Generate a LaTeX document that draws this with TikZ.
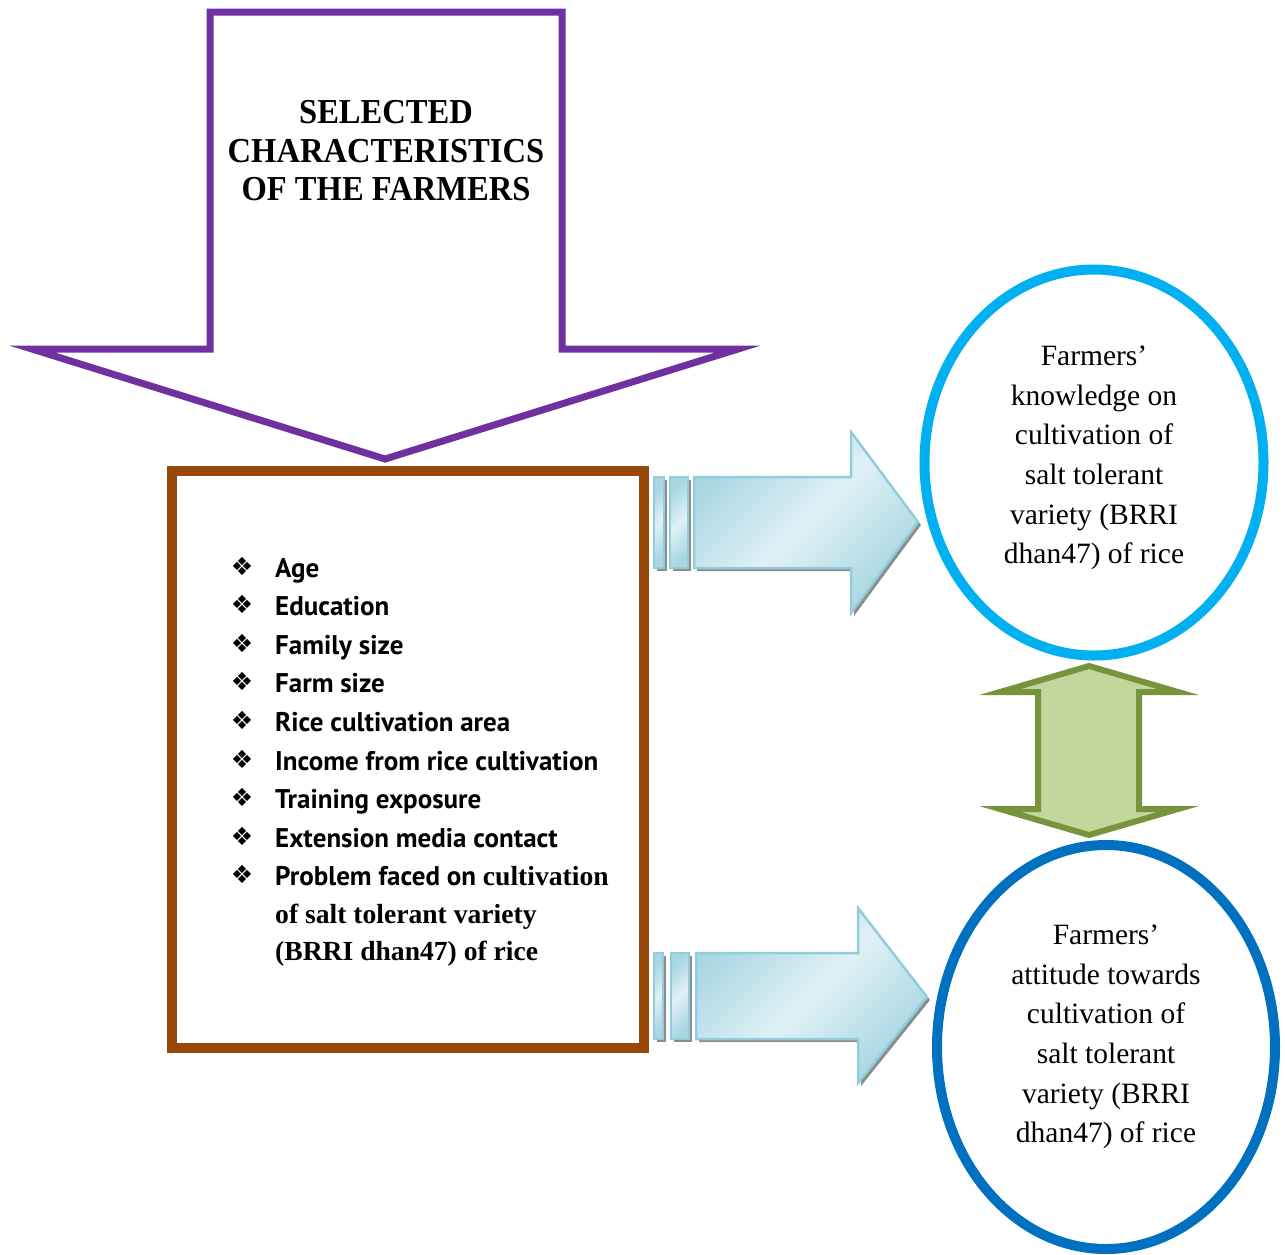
\documentclass[tikz,border=0pt]{standalone}
\usepackage{fontspec}
\setmainfont{Liberation Serif}
\newfontfamily\titlefont[FakeStretch=0.93]{Liberation Serif}
\newfontfamily\listfont{PT Sans}
\newfontfamily\symfont{DejaVu Sans}
\usetikzlibrary{shapes.geometric}
\definecolor{purp}{RGB}{112,48,160}
\definecolor{boxbrown}{RGB}{151,72,6}
\definecolor{cyanO}{RGB}{0,176,240}
\definecolor{blueO}{RGB}{0,112,192}
\definecolor{grnF}{RGB}{195,214,155}
\definecolor{grnD}{RGB}{119,147,60}
\definecolor{arrL}{RGB}{224,241,246}
\definecolor{arrD}{RGB}{168,214,226}
\definecolor{arrB}{RGB}{146,205,220}
\tikzset{
  bluefill/.style={draw=arrB, line width=2.5, line join=miter, top color=arrD, bottom color=arrD, middle color=arrL, shading angle=45},
  shadowfill/.style={fill=black!45, draw=none},
  ovalbox/.style={ellipse, line width=10, draw},
  ovaltext/.style={align=center, font=\fontsize{29.5}{39.6}\selectfont, inner sep=0},
  itemtext/.style={anchor=base west, inner sep=0, font=\listfont\bfseries\fontsize{27}{30}\selectfont},
  itemserif/.style={anchor=base west, inner sep=0, font=\bfseries\fontsize{27.6}{30}\selectfont},
  bulletmark/.style={anchor=base, inner sep=0, font=\symfont\fontsize{25}{26}\selectfont}
}
\begin{document}
\begin{tikzpicture}[x=1pt,y=-1pt]
\useasboundingbox (0,0) rectangle (1285,1254);

% top purple arrow
\draw[purp, line width=7, line join=miter, fill=white]
  (210,12) -- (562,12) -- (562,349) -- (738,349) -- (385,459) -- (32,349) -- (210,349) -- cycle;
\node[font=\titlefont\bfseries\fontsize{35}{38.5}\selectfont, align=center, inner sep=0] (title) at (386,151) {SELECTED\\CHARACTERISTICS\\OF THE FARMERS};

% brown box
\node[draw=boxbrown, line width=10, minimum width=472, minimum height=577, inner sep=0] (box) at (408,759.5) {};

% list
\foreach \t [count=\i] in {Age, Education, Family size, Farm size, Rice cultivation area, Income from rice cultivation, Training exposure, Extension media contact} {
  \node[itemtext] (item\i) at (275,{577+38.6*(\i-1)}) {\t};
  \node[bulletmark] (bul\i) at (242,{575+38.6*(\i-1)}) {❖};
}
\node[itemtext] (item9) at (275,885.8) {Problem faced on \fontspec{Liberation Serif}\bfseries\fontsize{27.6}{30}\selectfont cultivation};
\node[bulletmark] (bul9) at (242,883.8) {❖};
\node[itemserif] (item10) at (275,923) {of salt tolerant variety};
\node[itemserif] (item11) at (275,960) {(BRRI dhan47) of rice};

% upper blue arrow
\fill[shadowfill] (697,480) -- (854,480) -- (854,435) -- (921,525) -- (854,616) -- (854,571) -- (697,571) -- cycle;
\fill[shadowfill] (657,480) rectangle (667,571);
\fill[shadowfill] (673,480) rectangle (691,571);
\draw[bluefill] (654,477) rectangle (664,568);
\draw[bluefill] (670,477) rectangle (688,568);
\draw[bluefill] (694,477) -- (851,477) -- (851,432) -- (918,522) -- (851,613) -- (851,568) -- (694,568) -- cycle;

% lower blue arrow
\fill[shadowfill] (699,956) -- (861,956) -- (861,911) -- (930,1000) -- (861,1086) -- (861,1042) -- (699,1042) -- cycle;
\fill[shadowfill] (657,956) rectangle (666,1042);
\fill[shadowfill] (674,956) rectangle (692,1042);
\draw[bluefill] (654,953) rectangle (663,1039);
\draw[bluefill] (671,953) rectangle (689,1039);
\draw[bluefill] (696,953) -- (858,953) -- (858,908) -- (927,997) -- (858,1083) -- (858,1039) -- (696,1039) -- cycle;

% ellipses
\node[ovalbox, draw=cyanO, minimum width=339, minimum height=386, inner sep=0] (know) at (1094,462.5) {};
\node[ovaltext] (knowtext) at (1094,458) {Farmers’\\knowledge on\\cultivation of\\salt tolerant\\variety (BRRI\\dhan47) of rice};
\node[ovalbox, draw=blueO, minimum width=338, minimum height=404, inner sep=0] (att) at (1106,1047) {};
\node[ovaltext] (atttext) at (1106,1037) {Farmers’\\attitude towards\\cultivation of\\salt tolerant\\variety (BRRI\\dhan47) of rice};

% green double arrow
\draw[grnD, fill=grnF, line width=6, line join=miter]
  (1089,666) -- (1178,692) -- (1139,692) -- (1139,809) -- (1178,809) -- (1089,835) -- (1000,809) -- (1038,809) -- (1038,692) -- (1000,692) -- cycle;
\end{tikzpicture}
\end{document}
